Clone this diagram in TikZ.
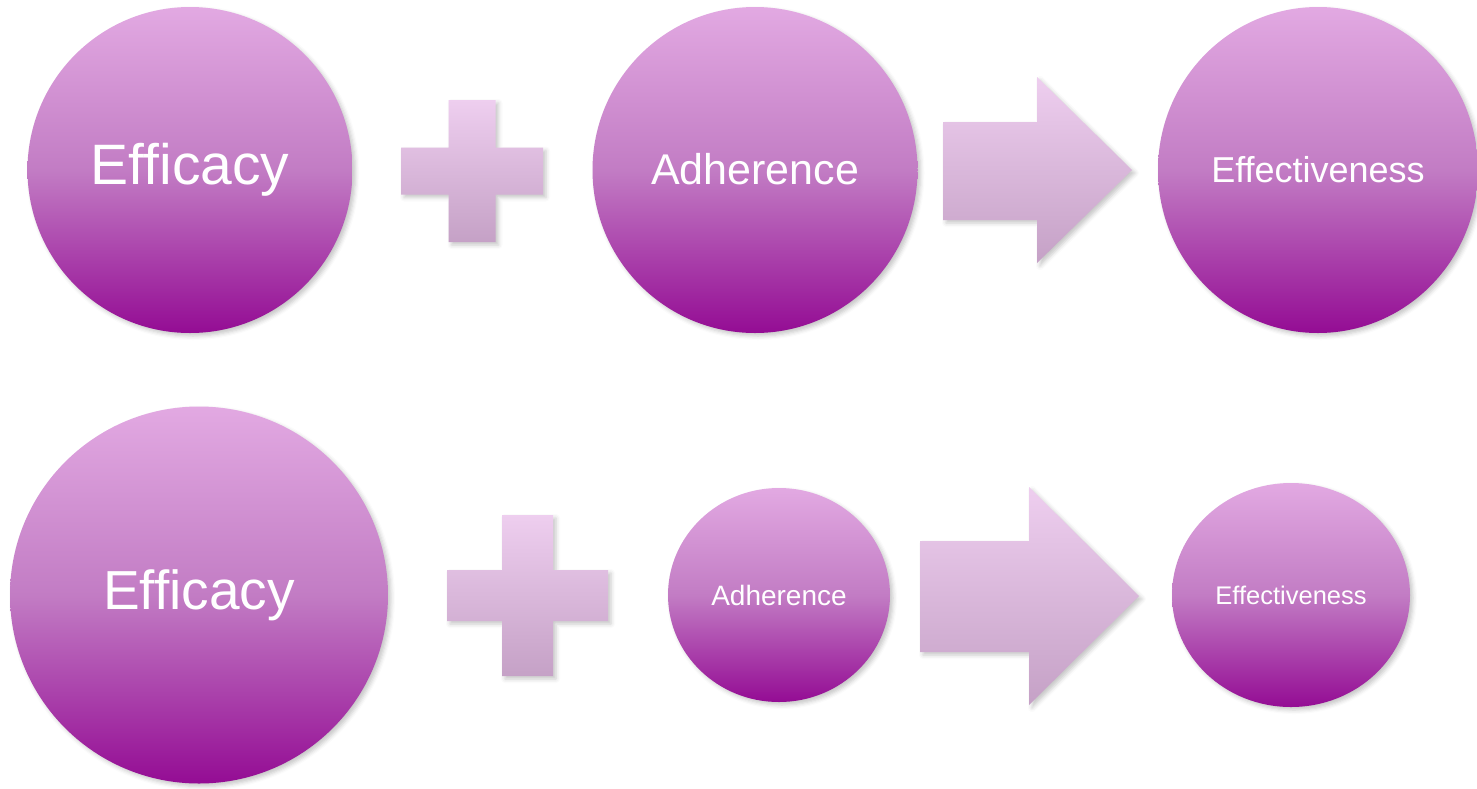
\documentclass[tikz,border=0pt]{standalone}
\usepackage{fontspec}
\setmainfont{Liberation Sans}[Ligatures=NoCommon]
\usetikzlibrary{shapes.geometric, shadows.blur}
\definecolor{orchidtop}{HTML}{E2A9E2}
\definecolor{orchidmid}{HTML}{C27CC4}
\definecolor{orchidbot}{HTML}{940C94}
\definecolor{signtop}{HTML}{EECEEF}
\definecolor{signbot}{HTML}{C5A1C6}
\def \toprow {170}
\def \botrow {595}
\tikzstyle{softshadow}=[blur shadow={shadow xshift=3pt, shadow yshift=-3pt, shadow blur radius=4pt, shadow opacity=22}]
\tikzstyle{bubble}=[ellipse, inner sep=0pt, text=white, top color=orchidtop, bottom color=orchidbot, middle color=orchidmid, softshadow]
\tikzstyle{sign}=[top color=signtop, bottom color=signbot, softshadow]
% plus sign: centre x, centre y, half bar width, half bar length
\newcommand{\plussign}[4]{
    \path[sign] ({#1-#3},{#2-#4}) -- ({#1+#3},{#2-#4}) -- ({#1+#3},{#2-#3}) -- ({#1+#4},{#2-#3})
        -- ({#1+#4},{#2+#3}) -- ({#1+#3},{#2+#3}) -- ({#1+#3},{#2+#4}) -- ({#1-#3},{#2+#4})
        -- ({#1-#3},{#2+#3}) -- ({#1-#4},{#2+#3}) -- ({#1-#4},{#2-#3}) -- ({#1-#3},{#2-#3}) -- cycle;
}
% block arrow: shaft left, shaft top, shaft bottom, head x, head top, head bottom, tip x
\newcommand{\fatarrow}[7]{
    \path[sign] (#1,#2) -- (#4,#2) -- (#4,#5) -- (#7,{(#5+#6)/2}) -- (#4,#6) -- (#4,#3) -- (#1,#3) -- cycle;
}

\begin{document}
\begin{tikzpicture}[x=1pt, y=-1pt]
\useasboundingbox (0,0) rectangle (1477,788);

% upper row
\node[bubble, minimum width=325pt, minimum height=326pt, font=\fontsize{57}{60}\selectfont] (E1) at (190,\toprow) {Efficacy};
\plussign{472}{171}{23.5}{71}
\node[bubble, minimum width=325pt, minimum height=326pt, font=\fontsize{43}{46}\selectfont] (A1) at (755,\toprow) {\raisebox{3pt}{Adherence}};
\fatarrow{943}{122}{220}{1037}{77}{263}{1132}
\node[bubble, minimum width=320pt, minimum height=326pt, font=\fontsize{36}{40}\selectfont] (F1) at (1318,\toprow) {\raisebox{2pt}{Effectiveness}};

% lower row
\node[bubble, minimum width=378pt, minimum height=377pt, font=\fontsize{55}{58}\selectfont] (E2) at (199,\botrow) {Efficacy};
\plussign{527.5}{595.5}{25.5}{80.5}
\node[bubble, minimum width=222pt, minimum height=214pt, font=\fontsize{28}{32}\selectfont] (A2) at (779,\botrow) {Adherence};
\fatarrow{920}{541}{652}{1029}{487}{705}{1139}
\node[bubble, minimum width=238pt, minimum height=224pt, font=\fontsize{25.5}{30}\selectfont] (F2) at (1291,\botrow) {Effectiveness};

\end{tikzpicture}
\end{document}
